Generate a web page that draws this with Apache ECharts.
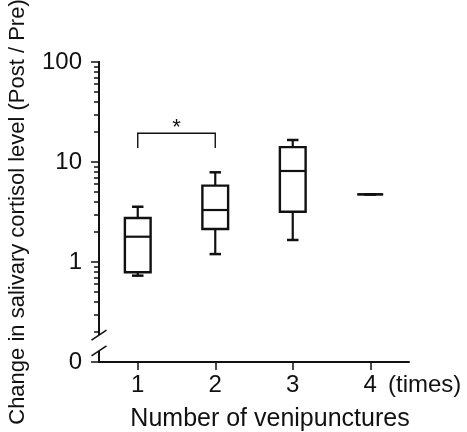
<!DOCTYPE html>
<html>
<head>
<meta charset="utf-8">
<title>Salivary cortisol</title>
<script src="https://cdn.jsdelivr.net/npm/echarts@6/dist/echarts.min.js"></script>
<style>
  html, body { margin: 0; padding: 0; background: #fff; }
  #chart { width: 467px; height: 432px; }
</style>
</head>
<body>
<div id="chart"></div>
<script>
// values (log scale, ratio post/pre)
const categories = ['1', '2', '3', '4']
const lowWhisker = [0.73, 1.2, 1.66, 4.75]
const lowerQuartile = [0.79, 2.14, 3.18, 4.75]
const median = [1.79, 3.31, 8.13, 4.75]
const upperQuartile = [2.75, 5.8, 14.1, 4.75]
const highWhisker = [3.57, 7.89, 16.6, 4.75]

const majorTicks = [0.1, 1, 10, 100]
const majorLabels = ['0', '1', '10', '100']
const minorTicks = [0.2, 0.3, 0.4, 0.5, 0.6, 0.7, 0.8, 0.9,
  2, 3, 4, 5, 6, 7, 8, 9,
  20, 30, 40, 50, 60, 70, 80, 90]

// significance bracket between group 1 and 2
const sigPair = [0, 1]
const sigLevels = [19.4, 13.8]
// axis break between 0 and the first decade
const breakLevels = [0.186, 0.129]

const font = 'Liberation Sans, Arial, Helvetica, sans-serif'
const ink = '#111'

const chart = echarts.init(document.getElementById('chart'), null, { renderer: 'canvas' })

const boxData = categories.map((c, i) => [i, lowWhisker[i], lowerQuartile[i], median[i], upperQuartile[i], highWhisker[i]])

chart.setOption({
  animation: false,
  backgroundColor: '#fff',
  title: {
    text: '(times)',
    left: 388,
    top: 373,
    padding: 0,
    textStyle: { fontFamily: font, fontSize: 24, fontWeight: 'normal', color: ink }
  },
  grid: {
    left: 99,
    right: 58,
    top: 62,
    bottom: 70,
    containLabel: false,
    outerBoundsMode: 'none'
  },
  xAxis: {
    type: 'category',
    data: categories,
    boundaryGap: true,
    name: 'Number of venipunctures',
    nameLocation: 'middle',
    nameGap: 45,
    nameTextStyle: { fontFamily: font, fontSize: 25, color: ink, padding: [0, 0, 0, 32] },
    axisLine: { show: true, onZero: false, lineStyle: { color: ink, width: 2 } },
    axisTick: { show: true, alignWithLabel: true, length: 8, lineStyle: { color: ink, width: 1.5 } },
    axisLabel: { margin: 11, fontFamily: font, fontSize: 24, color: ink },
    splitLine: { show: false }
  },
  yAxis: [{
    type: 'log',
    logBase: 10,
    min: 0.1,
    max: 100,
    name: 'Change in salivary cortisol level (Post / Pre)',
    nameLocation: 'middle',
    nameRotate: 90,
    nameGap: 70,
    nameTextStyle: { fontFamily: font, fontSize: 22, color: ink },
    axisLine: { show: true, onZero: false, lineStyle: { color: ink, width: 2 } },
    axisTick: { show: true, customValues: majorTicks, length: 8, lineStyle: { color: ink, width: 1.5 } },
    axisLabel: {
      customValues: majorTicks,
      margin: 17,
      fontFamily: font,
      fontSize: 24,
      color: ink,
      formatter: v => majorLabels[majorTicks.findIndex(t => Math.abs(t - v) < t * 0.01)]
    },
    splitLine: { show: false }
  }, {
    // second log axis on the same spot, only for the short minor ticks
    type: 'log',
    logBase: 10,
    min: 0.1,
    max: 100,
    position: 'left',
    offset: 0,
    axisLine: { show: true, onZero: false, lineStyle: { color: ink, width: 2 } },
    axisTick: { show: true, customValues: minorTicks, length: 5, lineStyle: { color: ink, width: 1.5 } },
    axisLabel: { show: false },
    splitLine: { show: false }
  }],
  series: [{
    type: 'custom',
    name: 'boxes',
    data: boxData,
    encode: { x: 0, y: [1, 2, 3, 4, 5] },
    renderItem(params, api) {
      const x = api.value(0)
      const lo = api.coord([x, api.value(1)])
      const q1 = api.coord([x, api.value(2)])
      const med = api.coord([x, api.value(3)])
      const q3 = api.coord([x, api.value(4)])
      const hi = api.coord([x, api.value(5)])
      const band = api.size([1, 0])[0]
      const half = band * 0.166
      const cap = band * 0.074
      const cx = med[0]
      const line = { stroke: ink, lineWidth: 2.2 }
      return {
        type: 'group',
        children: [
          { type: 'line', shape: { x1: cx, y1: hi[1], x2: cx, y2: q3[1] }, style: line },
          { type: 'line', shape: { x1: cx, y1: q1[1], x2: cx, y2: lo[1] }, style: line },
          { type: 'line', shape: { x1: cx - cap, y1: hi[1], x2: cx + cap, y2: hi[1] }, style: { stroke: ink, lineWidth: 2.5 } },
          { type: 'line', shape: { x1: cx - cap, y1: lo[1], x2: cx + cap, y2: lo[1] }, style: { stroke: ink, lineWidth: 2.5 } },
          { type: 'rect', shape: { x: cx - half, y: q3[1], width: half * 2, height: q1[1] - q3[1] }, style: { stroke: ink, fill: '#fff', lineWidth: 2.4 } },
          { type: 'line', shape: { x1: cx - half, y1: med[1], x2: cx + half, y2: med[1] }, style: line }
        ]
      }
    }
  }, {
    type: 'custom',
    name: 'significance',
    data: [[sigPair[0], sigPair[1], sigLevels[0], sigLevels[1]]],
    encode: { x: [0, 1], y: [2, 3] },
    renderItem(params, api) {
      const a = api.coord([api.value(0), api.value(2)])
      const b = api.coord([api.value(1), api.value(2)])
      const bottom = api.coord([api.value(0), api.value(3)])[1]
      return {
        type: 'group',
        children: [
          {
            type: 'polyline',
            shape: { points: [[a[0], bottom], [a[0], a[1]], [b[0], b[1]], [b[0], bottom]] },
            style: { stroke: ink, lineWidth: 1.4, fill: null }
          },
          {
            type: 'text',
            style: {
              text: '*', x: (a[0] + b[0]) / 2, y: a[1] - 5,
              align: 'center', verticalAlign: 'middle',
              font: '22px ' + font, fill: ink
            }
          }
        ]
      }
    }
  }, {
    type: 'custom',
    name: 'break',
    data: [[0, breakLevels[0], breakLevels[1]]],
    encode: { x: 0, y: [1, 2] },
    z: 10,
    renderItem(params, api) {
      const ax = params.coordSys.x
      const top = api.coord([0, api.value(1)])[1]
      const low = api.coord([0, api.value(2)])[1]
      const slash = { stroke: ink, lineWidth: 1.6 }
      return {
        type: 'group',
        children: [
          { type: 'rect', shape: { x: ax - 4, y: top, width: 8, height: low - top }, style: { fill: '#fff' } },
          { type: 'line', shape: { x1: ax - 7.5, y1: top + 5, x2: ax + 7.5, y2: top - 5 }, style: slash },
          { type: 'line', shape: { x1: ax - 7.5, y1: low + 5, x2: ax + 7.5, y2: low - 5 }, style: slash }
        ]
      }
    }
  }]
})
</script>
</body>
</html>
